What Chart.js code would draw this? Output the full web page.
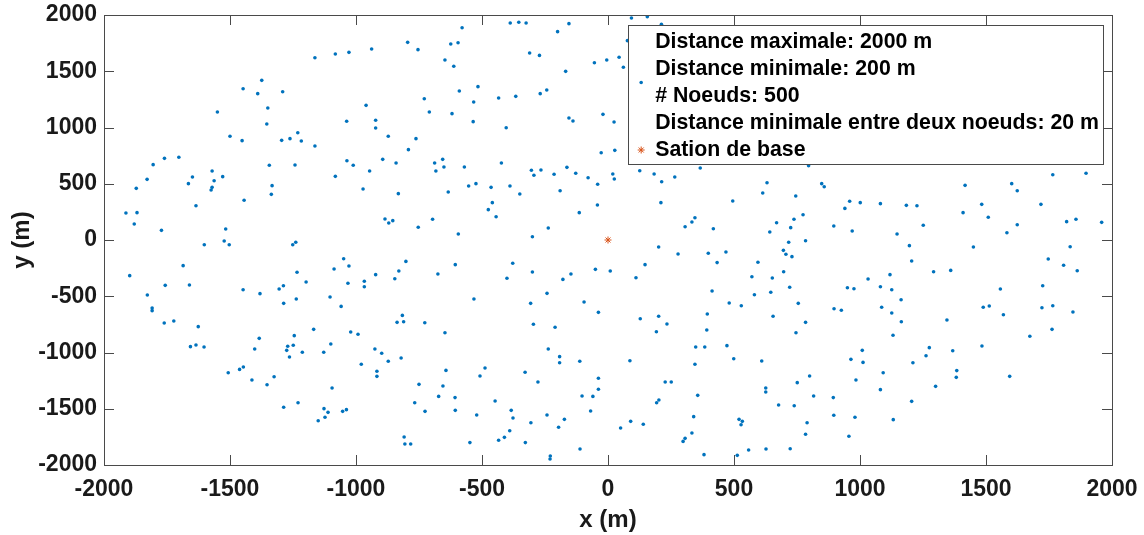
<!DOCTYPE html>
<html lang="fr">
<head>
    <meta charset="UTF-8">
    <title>Noeuds et station de base</title>
    <script src="https://cdn.jsdelivr.net/npm/chart.js"></script>
    <style>
        body {
            margin: 0;
            background-color: white;
        }

        #nodeChart {
            display: block;
        }
    </style>
</head>
<body>
    <canvas id="nodeChart" width="1144" height="535"></canvas>

    <script>
        // Node positions (m), read per region of the field
        const nodeX = [
            -1163, -1082, -1028, -938, -795, -754, -1374, -1448, -1390, -1291, -1350, -1550, -960, -729, -709, -1354, -1037, -922,
            -647, -579, -624, -595, -612, -388, -354, -325, -155, -200, 93, 156, 212, 77, -311, -272, -168, -54, -5, 44, 61, -590, -516, -533, -434, -366, -269, -243, -619, -535, -155, -139, -20, 24,
            -922, -1500, -1452, -1295, -1262, -1231, -1217, -1163, -872, -762, -792, -1805, -1760, -1703, -1829, -1872, -1913, -1869, -1880, -1772, -1571, -1649, -1665, -1563, -1529, -1571, -1575, -1635, -1517, -1344, -1242, -1333, -1336, -1444, -1082, -1036, -1011, -946, -894, -841, -972, -832, -688, -683, -885, -870, -854, -753, -696,
            -404, -27, 27, -656, -651, -570, -423, -304, -266, -294, -214, -163, -128, -79, -41, 19, 25, 126, 183, 213, 265, 366, -634, -553, -524, -464, -389, -350, -459, -475, -444, -190, -42, -114, 210, -594, -300, -237, 495, 631, 614, 345, 333, 306, 418, 642,
            796, 848, 858, 745, 669, 725, 738, 774, 940, 959, 1001, 1081, 1184, 1226, 896, 969, 1147, 1251, 1417, 1409, 1483, 1509, 1602, 1624, 1718, 1624, 1583, 1765, 1897, 1820, 1857, 1959,
            -1602, -1523, -1503, -1251, -1239, -1898, -1686, -1828, -1757, -1661, -1809, -1809, -1761, -1723, -1626, -1657, -1635, -1603, -1448, -1381, -1305, -1288, -1287, -1237, -1234, -1198, -1087, -1049, -1028, -1032, -1103, -1059, -967, -967, -922, -846, -830, -802, -675, -816, -837, -811, -727, -1168, -1021, -992, -1245, -1384, -1402, -1271, -1249, -1275, -1100, -925,
            201, 278, 398, 468, 433, 595, -606, -378, -300, -401, -179, -147, -50, 9, 111, 147, 571, 652, -532, -242, -307, -95, -38, 413, 481, 529, 581, 646, 655, 128, 201, 234, 192, 394, 392, -296, -210, -647, -237, 348, 384, 472,
            717, 784, 696, 706, 730, 697, 721, 755, 784, 746, 1196, 1205, 1450, 1292, 1360, 1119, 1032, 950, 976, 1081, 1126, 1163, 897, 926, 1086, 1126, 1164, 1131, 1345, 1557, 1489, 1513, 1569, 1725, 1747, 1808, 1834, 1862, 1722, 1765, 1845, 1762, 1674, 1009, 1275, 1368, 1484,
            -1264, -1213, -1128, -898, -821, -872, -979, -917, -917, -1507, -1462, -1447, -1413, -1353, -1325, -1095, -1287, -1230, -1127, -1111, -1150, -1123, -1053, -1038, -750, -767, -726, -672, -809, -806, -783,
            -643, -655, -607, -606, -508, -488, -521, -448, -384, -377, -390, -411, -434, -548, -329, -278, -192, -192, -112, -38, -38, -103, -60, -69, -242, -306, -173, -196, -328, -229, -230, -111, 87, 227, 251, 202, 193, 345, 356, 340, 333, 306, 298, 381, 50, 90, 140, 499, 610, 626, 626, 520, 533, 528, 513, 558, 627,
            964, 1012, 1210, 1262, 751, 800, 816, 677, 739, 894, 896, 790, 784, 723, 980, 956, 984, 1092, 1081, 1132, 1205, 1300, 1384, 1382, 1594
        ];
        const nodeY = [
            1620, 1653, 1668, 1698, 1757, 1692, 1419, 1345, 1301, 1318, 1173, 1138, 1197, 1256, 1138, 1031, 1055, 1064,
            1600, 1887, 1742, 1754, 1544, 1929, 1935, 1929, 1923, 1852, 1973, 1985, 1917, 1772, 1662, 1641, 1499, 1576, 1600, 1624, 1535, 1324, 1363, 1227, 1262, 1277, 1301, 1333, 1123, 1052, 1084, 1058, 1117, 1049,
            996, 922, 883, 886, 901, 954, 880, 836, 922, 901, 803, 670, 726, 735, 539, 459, 240, 243, 142, 86, 613, 560, 501, 527, 563, 468, 444, 305, 98, 664, 667, 483, 406, 353, 566, 705, 664, 613, 717, 684, 453, 412, 684, 613, 187, 151, 172, 113, 184,
            998, 776, 797, 717, 649, 649, 684, 620, 622, 575, 584, 646, 593, 554, 495, 587, 542, 616, 587, 518, 560, 640, 427, 480, 501, 468, 480, 409, 332, 270, 207, 438, 311, 243, 332, 53, 29, 107, 347, 509, 418, 198, 160, 118, 100, 71,
            661, 501, 474, 391, 154, 110, 184, 225, 281, 344, 332, 323, 308, 305, 124, 80, 53, 131, 486, 243, 317, 202, 501, 438, 317, 136, 65, 580, 593, 163, 184, 157,
            -42, -9, -42, -42, -20, -317, -228, -489, -403, -400, -604, -628, -738, -720, -770, -948, -933, -951, -442, -477, -436, -406, -563, -524, -287, -373, -258, -166, -231, -385, -507, -590, -367, -415, -308, -344, -276, -190, -302, -670, -732, -726, -735, -794, -818, -838, -850, -874, -969, -945, -936, -981, -924, -969,
            -62, -124, -118, -107, -201, -198, -219, -207, -284, -340, -350, -302, -261, -276, -335, -219, -326, -338, -524, -474, -563, -551, -643, -453, -560, -584, -486, -465, -678, -700, -678, -747, -815, -658, -800, -749, -776, -824, -969, -951, -951, -939,
            -20, -6, -92, -127, -148, -282, -420, -563, -732, -824, -50, -187, -62, -282, -270, -308, -347, -424, -433, -415, -442, -531, -611, -625, -598, -649, -726, -847, -711, -436, -598, -587, -664, -406, -169, -225, -60, -273, -602, -584, -640, -794, -856, -981, -957, -984, -942,
            -1040, -998, -998, -1007, -1049, -1078, -1105, -1167, -1212, -1180, -1150, -1129, -1244, -1286, -1215, -1316, -1487, -1446, -1499, -1532, -1606, -1576, -1523, -1508, -1283, -1446, -1523, -1390, -1751, -1813, -1813,
            -1159, -1298, -1401, -1514, -1209, -1138, -1556, -1431, -1514, -1582, -1695, -1754, -1780, -1801, -1176, -1262, -1037, -1091, -1078, -1229, -1327, -1387, -1390, -1520, -1556, -1624, -1594, -1665, -1801, -1920, -1947, -1858, -1073, -1262, -1262, -1422, -1446, -1105, -1381, -1570, -1716, -1763, -1790, -1908, -1671, -1612, -1638, -1055, -1076, -1316, -1351, -1594, -1612, -1642, -1914, -1867, -1858,
            -1061, -1088, -1091, -1029, -1268, -1209, -1387, -1467, -1473, -1401, -1558, -1624, -1727, -1855, -1576, -1745, -1244, -1180, -1330, -1597, -1434, -1301, -1161, -1221, -1212
        ];

        // Base station
        const baseX = [0];
        const baseY = [0];

        const xTicks = [-2000, -1500, -1000, -500, 0, 500, 1000, 1500, 2000];
        const yTicks = [-2000, -1500, -1000, -500, 0, 500, 1000, 1500, 2000];

        const nodeLabel = [
            'Distance maximale: 2000 m',
            'Distance minimale: 200 m',
            '# Noeuds: 500',
            'Distance minimale entre deux noeuds: 20 m'
        ];
        const baseLabel = 'Sation de base';

        const fontFamily = '"Liberation Sans", Arial, Helvetica, sans-serif';
        const axisColor = '#4a4a4a';
        const nodeColor = '#0072BD';
        const baseColor = '#D95319';

        function toPoints(xs, ys) {
            return xs.map((x, i) => ({ x: x, y: ys[i] }));
        }

        // Box around the axes with MATLAB-style inward ticks on all four sides
        const axesBox = {
            id: 'axesBox',
            afterDatasetsDraw(chart) {
                const { ctx, chartArea: a, scales } = chart;
                const len = 10;
                ctx.save();
                ctx.strokeStyle = axisColor;
                ctx.lineWidth = 1;
                ctx.beginPath();
                scales.x.ticks.forEach(t => {
                    const px = Math.round(scales.x.getPixelForValue(t.value)) + 0.5;
                    ctx.moveTo(px, a.bottom);
                    ctx.lineTo(px, a.bottom - len);
                    ctx.moveTo(px, a.top);
                    ctx.lineTo(px, a.top + len);
                });
                scales.y.ticks.forEach(t => {
                    const py = Math.round(scales.y.getPixelForValue(t.value)) + 0.5;
                    ctx.moveTo(a.left, py);
                    ctx.lineTo(a.left + len, py);
                    ctx.moveTo(a.right, py);
                    ctx.lineTo(a.right - len, py);
                });
                ctx.stroke();
                ctx.strokeRect(Math.round(a.left) + 0.5, Math.round(a.top) + 0.5,
                    Math.round(a.right - a.left), Math.round(a.bottom - a.top));
                ctx.restore();
            }
        };

        // Legend box in the upper right corner of the axes
        const legendBox = {
            id: 'legendBox',
            afterDraw(chart) {
                const { ctx, chartArea: a } = chart;
                const lines = nodeLabel.concat([baseLabel]);
                const rowH = 27;
                ctx.save();
                ctx.font = 'bold 21.3px ' + fontFamily;
                const textW = Math.max(...lines.map(t => ctx.measureText(t).width));
                const right = a.right - 9;
                const top = a.top + 10;
                const left = right - textW - 31;
                const height = rowH * lines.length + 4;

                ctx.fillStyle = 'white';
                ctx.fillRect(left, top, right - left, height);
                ctx.strokeStyle = axisColor;
                ctx.lineWidth = 1;
                ctx.strokeRect(Math.round(left) + 0.5, Math.round(top) + 0.5,
                    Math.round(right - left), Math.round(height));

                ctx.fillStyle = '#000';
                ctx.textAlign = 'left';
                ctx.textBaseline = 'middle';
                lines.forEach((t, i) => {
                    ctx.fillText(t, left + 27, top + 17 + i * rowH);
                });

                // markers: node dot centred on its four lines, star for the base station
                const mx = left + 13;
                const nodeY0 = top + 17 + rowH * (nodeLabel.length - 1) / 2;
                ctx.fillStyle = nodeColor;
                ctx.beginPath();
                ctx.arc(mx, nodeY0, 1.8, 0, Math.PI * 2);
                ctx.fill();

                ctx.strokeStyle = baseColor;
                ctx.fillStyle = baseColor;
                Chart.helpers.drawPoint(ctx, {
                    pointStyle: 'star', radius: 3.5, rotation: 0, borderWidth: 1
                }, mx, top + 17 + rowH * nodeLabel.length);
                ctx.restore();
            }
        };

        new Chart(document.getElementById('nodeChart'), {
            type: 'scatter',
            data: {
                datasets: [
                    {
                        label: baseLabel,
                        data: toPoints(baseX, baseY),
                        pointStyle: 'star',
                        pointRadius: 3.5,
                        borderColor: baseColor,
                        backgroundColor: baseColor,
                        borderWidth: 1
                    },
                    {
                        label: nodeLabel.join(' / '),
                        data: toPoints(nodeX, nodeY),
                        pointRadius: 1.8,
                        backgroundColor: nodeColor,
                        borderWidth: 0
                    }
                ]
            },
            options: {
                responsive: false,
                animation: false,
                devicePixelRatio: 1,
                layout: {
                    padding: { top: 15, right: 32, left: 0, bottom: 0 }
                },
                plugins: {
                    legend: { display: false },
                    tooltip: { enabled: false }
                },
                scales: {
                    x: {
                        type: 'linear',
                        min: -2000,
                        max: 2000,
                        grid: { display: false, drawTicks: false },
                        border: { display: false },
                        afterBuildTicks: s => { s.ticks = xTicks.map(v => ({ value: v })); },
                        afterFit: s => {
                            s.height = 70;
                            s.paddingLeft = 0;
                            s.paddingRight = 0;
                        },
                        ticks: {
                            autoSkip: false,
                            maxRotation: 0,
                            padding: 11,
                            color: '#1a1a1a',
                            font: { family: fontFamily, size: 23, weight: 'bold' },
                            callback: v => String(v)
                        },
                        title: {
                            display: true,
                            text: 'x (m)',
                            color: '#1a1a1a',
                            padding: 0,
                            font: { family: fontFamily, size: 24, weight: 'bold' }
                        }
                    },
                    y: {
                        type: 'linear',
                        min: -2000,
                        max: 2000,
                        grid: { display: false, drawTicks: false },
                        border: { display: false },
                        afterBuildTicks: s => { s.ticks = yTicks.map(v => ({ value: v })); },
                        afterFit: s => {
                            s.width = 104;
                            s.paddingTop = 0;
                            s.paddingBottom = 0;
                        },
                        ticks: {
                            autoSkip: false,
                            padding: 7,
                            color: '#1a1a1a',
                            font: { family: fontFamily, size: 23, weight: 'bold' },
                            callback: v => String(v)
                        },
                        title: {
                            display: true,
                            text: 'y (m)',
                            color: '#1a1a1a',
                            padding: { top: 8, bottom: 0 },
                            font: { family: fontFamily, size: 24, weight: 'bold' }
                        }
                    }
                }
            },
            plugins: [axesBox, legendBox]
        });
    </script>
</body>
</html>
